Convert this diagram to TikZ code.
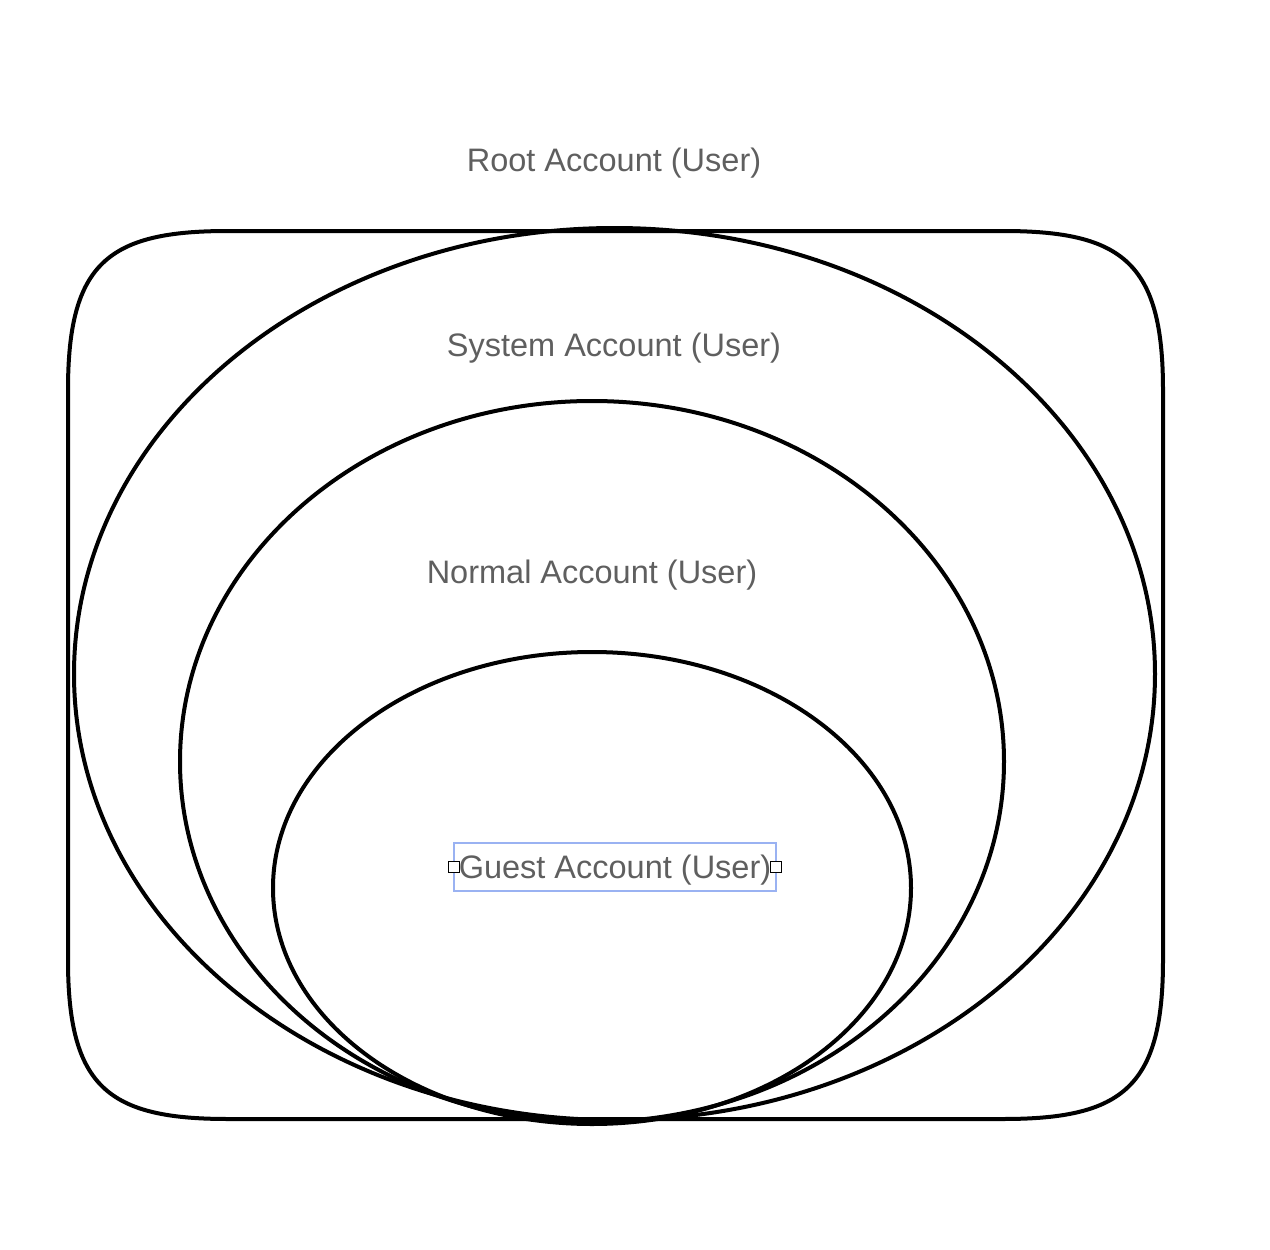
\documentclass[tikz,border=0pt]{standalone}
\usepackage{fontspec}
\setmainfont{Liberation Sans}
\usetikzlibrary{shapes.geometric}
\definecolor{ink}{HTML}{000000}
\definecolor{label}{HTML}{5F5F5F}
\definecolor{selb}{HTML}{9AB2F2}

\begin{document}
\begin{tikzpicture}[x=1pt, y=-1pt,
      ring/.style={draw=ink, line width=4pt, ellipse, inner sep=0pt},
      tag/.style={text=label, font=\fontsize{32.5}{38}\selectfont, inner sep=0pt},
      selbox/.style={draw=selb, line width=1.5pt},
      grip/.style={draw=ink, fill=white, line width=1pt, minimum size=11pt, inner sep=0pt}]
    \useasboundingbox (0,0) rectangle (1270,1250);
    % outer frame (root)
    \draw[ink, line width=4pt]
      (68,390) .. controls (68,263) and (108,231) .. (228,231)
      -- (1003,231) .. controls (1123,231) and (1163,263) .. (1163,390)
      -- (1163,960) .. controls (1163,1087) and (1123,1119) .. (1003,1119)
      -- (228,1119) .. controls (108,1119) and (68,1087) .. (68,960)
      -- cycle;
    \node[ring, minimum width=1081pt, minimum height=892pt] (sys) at (614.5,674) {};
    \node[ring, minimum width=824pt, minimum height=721pt] (norm) at (592,761.5) {};
    \node[ring, minimum width=638pt, minimum height=472pt] (guest) at (592,888) {};
    \node[tag] (rootlbl) at (614,163) {Root Account (User)};
    \node[tag] (syslbl) at (614,348) {System Account (User)};
    \node[tag] (normlbl) at (592,575) {Normal Account (User)};
    \node[tag] (guestlbl) at (615,870) {Guest Account (User)};
    \draw[selbox] (454,843) rectangle (776,891);
    \node[grip] (gl) at (454,867) {};
    \node[grip] (gr) at (776,867) {};
  \end{tikzpicture}
\end{document}
